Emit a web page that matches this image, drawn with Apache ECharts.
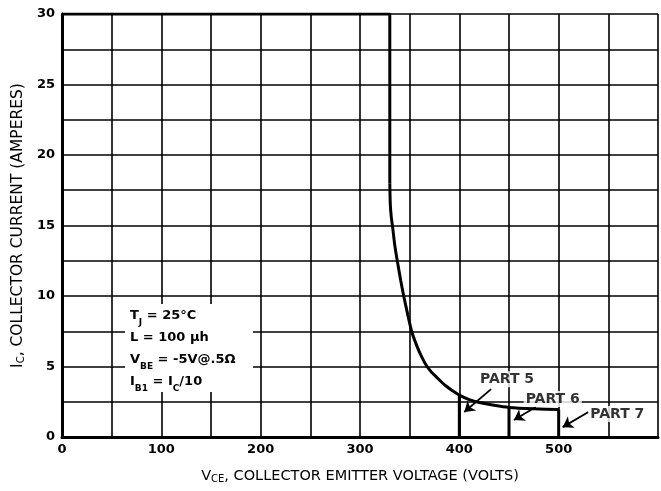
<!DOCTYPE html>
<html><head><meta charset="utf-8">
<script src="https://cdn.jsdelivr.net/npm/echarts@6/dist/echarts.min.js"></script>
<style>html,body{margin:0;padding:0;background:#fff}#c{width:661px;height:491px}</style>
</head><body><div id="c"></div>
<script>
// ---- data ----
const xTickLabels = [0, 100, 200, 300, 400, 500];
const yTickLabels = [0, 5, 10, 15, 20, 25, 30];
// flat limit and vertical drop (straight segments)
const limitV = [0, 330, 330];
const limitI = [30, 30, 18];
// curved part of the safe operating boundary
const curveV = [330, 330.5, 331.5, 333, 335, 338, 341, 344, 348, 352, 357, 362, 367, 372, 377, 382, 387, 392, 397, 402, 410, 420, 435, 450, 475, 500];
const curveI = [18, 16.5, 15.6, 14.8, 13.6, 12.3, 11.1, 10, 8.7, 7.5, 6.5, 5.7, 5.05, 4.6, 4.25, 3.9, 3.6, 3.33, 3.1, 2.9, 2.65, 2.45, 2.25, 2.1, 2.0, 1.95];
// part test lines
const partNames = ['PART 5', 'PART 6', 'PART 7'];
const partV = [400, 450, 500];
const partTopI = [2.98, 2.1, 1.95];
// label / arrow anchors (data units)
const labelV = [448, 494, 559];
const labelI = [4.1, 2.7, 1.63];
const arrowFromV = [432, 477, 530];
const arrowFromI = [3.4, 2.13, 1.77];
const arrowToV = [405, 455, 504];
const arrowToI = [1.77, 1.2, 0.7];
const noteLines = ['T{s|J} = 25°C', 'L = 100 µh', 'V{s|BE} = -5V@.5Ω', 'I{s|B1} = I{s|C}/10'];

const FONT = 'DejaVu Sans';
const zip = (a, b) => a.map((v, i) => [v, b[i]]);

const series = [];
series.push({
  type: 'line', data: zip(limitV, limitI), symbol: 'none', smooth: false,
  lineStyle: { color: '#000', width: 3 }, z: 5
});
series.push({
  type: 'line', data: zip(curveV, curveI), symbol: 'none', smooth: 0.2,
  lineStyle: { color: '#000', width: 3 }, z: 5
});
partV.forEach((v, i) => {
  series.push({
    type: 'line', data: [[v, 0], [v, partTopI[i]]], symbol: 'none',
    lineStyle: { color: '#000', width: 3 }, z: 5
  });
});
series.push({
  type: 'lines', coordinateSystem: 'cartesian2d',
  data: arrowFromV.map((v, i) => ({ coords: [[v, arrowFromI[i]], [arrowToV[i], arrowToI[i]]] })),
  symbol: ['none', 'arrow'], symbolSize: [0, 10],
  lineStyle: { color: '#000', width: 1.8, opacity: 1 }, z: 6
});
series.push({
  type: 'scatter', symbolSize: 0,
  data: partNames.map((n, i) => ({ name: n, value: [labelV[i], labelI[i]] })),
  label: {
    show: true, position: 'inside', formatter: '{b}',
    fontFamily: FONT, fontWeight: 'bold', fontSize: 14, color: '#000',
    backgroundColor: '#fff', padding: [1, 2]
  },
  z: 7
});

const subStyle = { fontFamily: FONT, fontSize: 10, color: '#000', verticalAlign: 'bottom', lineHeight: 14 };

const chart = echarts.init(document.getElementById('c'));
chart.setOption({
  backgroundColor: '#fff',
  animation: false,
  grid: { left: 62, right: -2, top: 14, bottom: 54, containLabel: false },
  xAxis: {
    type: 'value', min: 0, max: 600, interval: 50,
    axisLine: { show: true, lineStyle: { color: '#000', width: 3 } },
    axisTick: { show: false },
    axisLabel: {
      formatter: v => xTickLabels.includes(v) ? String(v) : '',
      fontFamily: FONT, fontWeight: 'bold', fontSize: 13, color: '#000', margin: 6
    },
    splitLine: { show: true, lineStyle: { color: '#000', width: 1.6 } },
    name: 'V{s|CE}, COLLECTOR EMITTER VOLTAGE (VOLTS)',
    nameLocation: 'middle', nameGap: 32,
    nameTextStyle: {
      fontFamily: FONT, fontSize: 14.5, color: '#000',
      rich: { s: subStyle }
    }
  },
  yAxis: {
    type: 'value', min: 0, max: 30, interval: 2.5,
    axisLine: { show: true, lineStyle: { color: '#000', width: 3 } },
    axisTick: { show: false },
    axisLabel: {
      formatter: v => yTickLabels.includes(v) ? String(v) : '',
      fontFamily: FONT, fontWeight: 'bold', fontSize: 13, color: '#000', margin: 7
    },
    splitLine: { show: true, lineStyle: { color: '#000', width: 1.6 } },
    name: 'I{s|C}, COLLECTOR CURRENT (AMPERES)',
    nameLocation: 'middle', nameGap: 36,
    nameTextStyle: {
      fontFamily: FONT, fontSize: 15.5, color: '#000',
      rich: { s: subStyle }
    }
  },
  graphic: [
    { type: 'rect', shape: { x: 125, y: 304, width: 128, height: 88 }, style: { fill: '#fff' }, z: 10 },
    {
      type: 'text', x: 130, y: 305, z: 11,
      style: {
        text: noteLines.join('\n'),
        fontFamily: FONT, fontWeight: 'bold', fontSize: 13, fill: '#000', lineHeight: 22,
        rich: { s: { fontFamily: FONT, fontWeight: 'bold', fontSize: 9, fill: '#000', verticalAlign: 'bottom', lineHeight: 13 } }
      }
    }
  ],
  series: series
});
</script></body></html>
